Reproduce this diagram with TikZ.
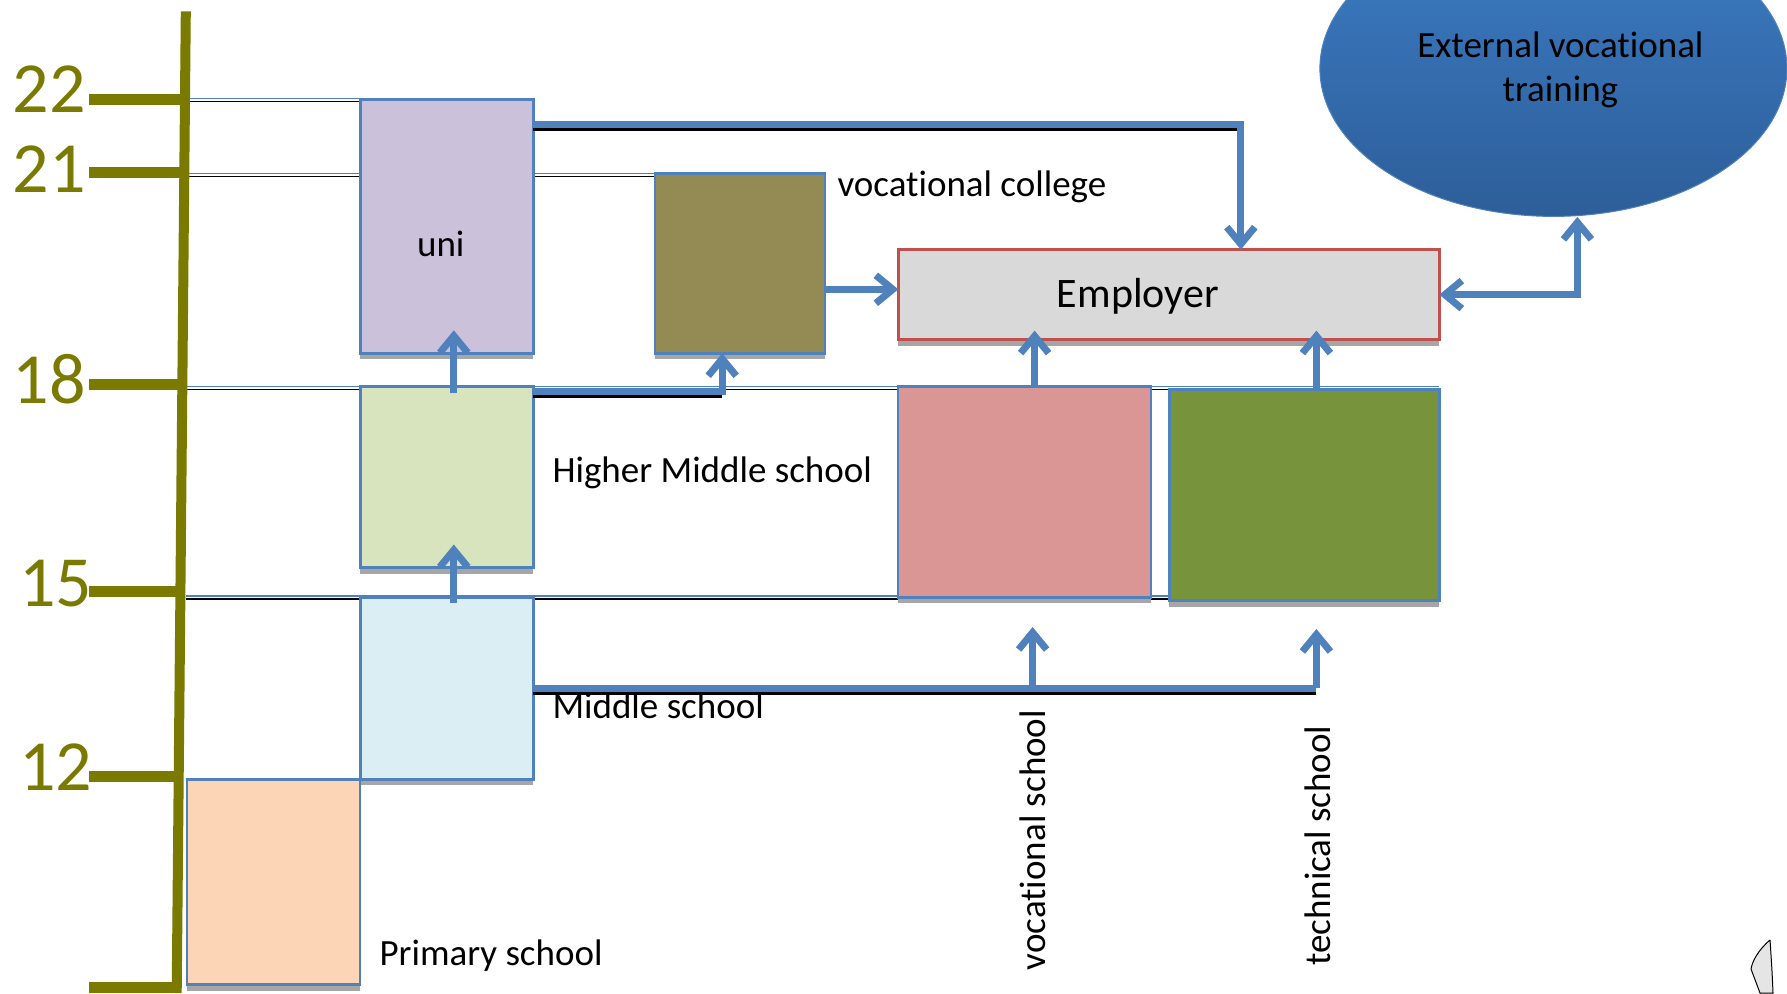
\documentclass[tikz,border=0pt]{standalone}
\usepackage{fontspec}
\setmainfont{Carlito}[Ligatures=NoCommon]
\usetikzlibrary{arrows.meta,shadows,shapes.geometric}

\definecolor{axisolive}{RGB}{122,122,0}
\definecolor{lineblue}{HTML}{4F81BD}
\definecolor{unifill}{HTML}{CCC1DA}
\definecolor{collegefill}{HTML}{948A54}
\definecolor{employerfill}{HTML}{D9D9D9}
\definecolor{employerred}{HTML}{C0504D}
\definecolor{higherfill}{HTML}{D7E4BD}
\definecolor{vocfill}{HTML}{D99694}
\definecolor{techfill}{HTML}{77933C}
\definecolor{middlefill}{HTML}{DBEEF4}
\definecolor{primaryfill}{HTML}{FBD5B5}
\definecolor{exttop}{HTML}{3C7CC4}
\definecolor{extbottom}{HTML}{2D5E99}

\begin{document}
\begin{tikzpicture}
     [x=1pt,y=-1pt,font=\fontsize{37}{44}\selectfont,
      box/.style={rectangle,draw=lineblue,line width=2.5pt,inner sep=0pt,outer sep=0pt,
                  drop shadow={shadow xshift=0pt,shadow yshift=-6pt,fill=black!35,opacity=1}},
      ageline/.style={draw=lineblue,line width=1.8pt},
      agelineblack/.style={draw=black,line width=1.5pt},
      tick/.style={draw=axisolive,line width=11pt},
      agelabel/.style={text=axisolive,font=\fontsize{72}{72}\selectfont,inner sep=0pt},
      conn/.style={draw=lineblue,line width=7pt,-{Straight Barb[length=17pt,width=28pt]}},
      connblack/.style={draw=black,line width=5pt}]
     \useasboundingbox (0,0) rectangle (1787,993);
     \clip (0,0) rectangle (1787,993);

     \foreach \ya/\xe in {98.5/533.4,173.5/655.3,386.5/1439.4,596/1439.4}
         {\draw[ageline] (186,\ya) -- (\xe,\ya);
          \draw[agelineblack] (186,\ya+3) -- (\xe,\ya+3);}

     \foreach \y/\xa/\lab/\xl/\yl in {99.2/185/22/49/89,172.1/184.3/21/49/168.7,384.1/182.3/18/49/379.5,591.5/180.4/15/55.8/583.5,776.1/178.7/12/55.8/767}
         {\draw[tick] (89,\y) -- (\xa,\y);
          \node[agelabel] (nAge\lab) at (\xl,\yl) {\lab};}
     \draw[tick] (89,987) -- (176.8,987);
     \draw[draw=axisolive,line width=10pt] (185.8,11.4) -- (176.7,993);

     \node[box,fill=unifill,minimum width=173pt,minimum height=254pt,
           label={[xshift=-6pt,yshift=-18pt]center:uni}] (nUni) at (446.8,226.3) {};
     \node[box,fill=collegefill,minimum width=170pt,minimum height=180pt] (nCollege) at (740.2,263.3) {};
     \node[box,fill=employerfill,draw=employerred,minimum width=541pt,minimum height=90pt,
           label={[xshift=-31pt,yshift=-2pt,font=\fontsize{42}{50}\selectfont]center:Employer}] (nEmployer) at (1168.8,294.6) {};
     \node[box,fill=higherfill,minimum width=173pt,minimum height=181pt] (nHigher) at (446.8,477) {};
     \node[box,fill=vocfill,minimum width=253pt,minimum height=211pt] (nVocSchool) at (1024.6,491.8) {};
     \node[box,fill=techfill,minimum width=270pt,minimum height=211pt] (nTechSchool) at (1304.4,495.2) {};
     \node[box,fill=middlefill,minimum width=173pt,minimum height=182pt] (nMiddle) at (446.8,688.4) {};
     \node[box,fill=primaryfill,minimum width=173pt,minimum height=205pt] (nPrimary) at (273.5,882.2) {};
     \node[ellipse,top color=exttop,bottom color=extbottom,draw=lineblue,line width=1pt,
           minimum width=467pt,minimum height=296pt,inner sep=0pt,
           label={[xshift=7pt,yshift=-1pt,align=center]center:External vocational\\training}] (nExternal) at (1553.4,68.4) {};

     \node[anchor=west] (nCollegeText) at (834,187) {vocational college};
     \node[anchor=west] (nHigherText) at (549,473) {Higher Middle school};
     \node[anchor=west] (nMiddleText) at (549,706) {Middle school};
     \node[anchor=west] (nPrimaryText) at (376,956) {Primary school};
     \node[rotate=90] (nVocText) at (1032.6,840) {vocational school};
     \node[rotate=90] (nTechText) at (1317.5,845.7) {technical school};

     \coordinate (cUniOut) at ([yshift=-25pt]nUni.north east);
     \coordinate (cEmpIn) at ([xshift=72pt]nEmployer.north);
     \coordinate (cHigherOut) at ([yshift=-5pt]nHigher.north east);
     \coordinate (cCollegeIn) at ([xshift=-18pt]nCollege.south);
     \coordinate (cCollegeOut) at ([yshift=-26pt]nCollege.east);
     \coordinate (cVocOut) at ([xshift=10pt]nVocSchool.north);
     \coordinate (cTechOut) at ([xshift=12pt]nTechSchool.north);
     \coordinate (cExtIn) at ([xshift=24pt]nExternal.south);
     \coordinate (cVocIn) at (1032.6,627);
     \coordinate (cTechIn) at (1316.4,629);

     \draw[connblack] ([yshift=-4pt]cUniOut) -- ([yshift=-4pt]cUniOut -| cEmpIn);
     \draw[conn] (cUniOut) -| (cEmpIn);
     \draw[connblack] ([yshift=-4pt]cHigherOut) -- ([yshift=-4pt]cHigherOut -| cCollegeIn);
     \draw[conn] (cHigherOut) -| (cCollegeIn);
     \draw[conn] (cCollegeOut) -- (cCollegeOut -| nEmployer.west);
     \draw[conn,{Straight Barb[length=17pt,width=28pt]}-{Straight Barb[length=17pt,width=28pt]}] (nEmployer.east) -| (cExtIn);

     \foreach \from/\to in {nHigher/nUni,nMiddle/nHigher}
         \draw[conn,shorten >=-23pt,shorten <=-6pt] ([xshift=7pt]\from.north) -- ([xshift=7pt]\to.south);
     \draw[conn,shorten >=-9pt] (cVocOut) -- (cVocOut |- nEmployer.south);
     \draw[conn,shorten >=-9pt] (cTechOut) -- (cTechOut |- nEmployer.south);

     \draw[connblack] ([yshift=-4pt]nMiddle.east) -- ([yshift=-4pt]nMiddle.east -| cTechIn);
     \draw[conn,-] (nMiddle.east) -- (nMiddle.east -| cTechIn);
     \foreach \to in {cVocIn,cTechIn}
         \draw[conn] (nMiddle.east -| \to) -- (\to);

     \draw[line width=1pt,fill=gray!20] (1770,940) .. controls (1758,950) and (1752,962) .. (1751,969)
         -- (1760,993) -- (1773,993) .. controls (1772,970) .. (1770,940);
\end{tikzpicture}
\end{document}
